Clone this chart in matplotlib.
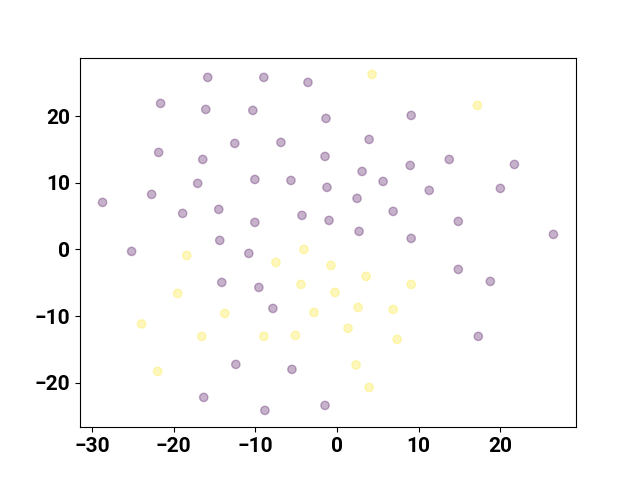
import matplotlib
matplotlib.use("Agg")
import matplotlib.pyplot as plt
import numpy as np

purple_x = [-15.83, -8.96, -3.56, -21.6, -16.07, -10.31, -1.35, 9.08, 3.93, -12.52,
            -6.87, -21.84, -16.44, -1.47, 3.07, 8.96, 13.74, 21.72, -17.06, -10.06,
            -5.64, 5.64, -22.7, -1.23, 11.29, 20.0, -28.71, -18.9, -14.48, 2.45,
            -4.29, 6.87, -10.06, -0.98, 14.85, 2.7, -14.36, 9.08, 26.5, -25.15,
            -10.8, -14.11, -9.57, 18.77, 14.85, -7.85, -12.39, -5.52, 17.3, -16.32,
            -8.83, -1.47]
purple_y = [25.79, 25.79, 25.04, 21.89, 20.99, 20.84, 19.64, 20.09, 16.49, 15.89,
            16.04, 14.54, 13.49, 13.94, 11.69, 12.59, 13.49, 12.74, 9.9, 10.49,
            10.34, 10.19, 8.25, 9.3, 8.85, 9.15, 7.05, 5.4, 6.0, 7.65,
            5.1, 5.7, 4.05, 4.35, 4.2, 2.7, 1.35, 1.65, 2.25, -0.3,
            -0.6, -4.95, -5.7, -4.8, -3.0, -8.85, -17.24, -17.99, -13.04, -22.19,
            -24.14, -23.39]
yellow_x = [4.29, 17.18, -18.4, -4.05, -7.48, -0.74, -19.51, 3.56, -4.42, -0.25,
            9.08, -23.93, -13.74, -2.82, 2.58, 6.87, -16.56, -8.96, -5.09, 1.35,
            7.36, -21.96, 2.33, 3.93]
yellow_y = [26.24, 21.59, -0.9, 0.0, -1.95, -2.4, -6.6, -4.05, -5.25, -6.45,
            -5.25, -11.17, -9.6, -9.45, -8.7, -9.0, -13.04, -13.04, -12.89, -11.84,
            -13.49, -18.29, -17.32, -20.69]

x = np.array(purple_x + yellow_x)
y = np.array(purple_y + yellow_y)
labels = np.array([0] * len(purple_x) + [1] * len(yellow_x))

plt.rcParams['font.family'] = ['Roboto', 'DejaVu Sans']
fig, ax = plt.subplots(figsize=(6.4, 4.8), dpi=100)
ax.scatter(x, y, c=labels, cmap='viridis', alpha=0.3)
ax.tick_params(labelsize=15)
for t in ax.get_xticklabels() + ax.get_yticklabels():
    t.set_fontweight('bold')
fig.savefig("out.png", dpi=100)
